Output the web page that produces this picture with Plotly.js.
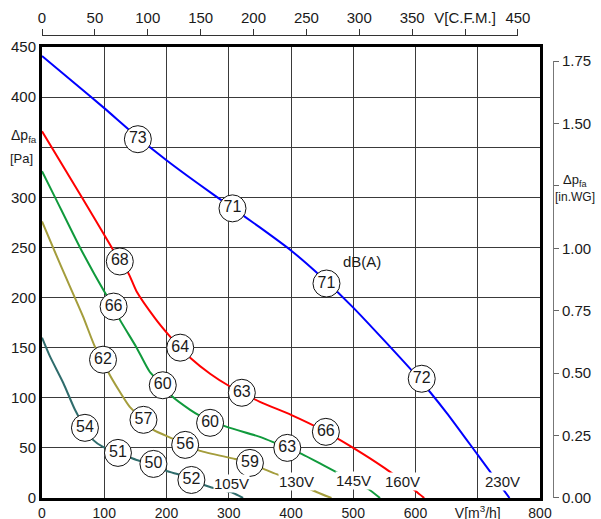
<!DOCTYPE html>
<html>
<head>
<meta charset="utf-8">
<script src="https://cdn.plot.ly/plotly-3.0.1.min.js"></script>
<style>html,body{margin:0;padding:0;background:#fff;}#chart{width:601px;height:519px;}</style>
</head>
<body>
<div id="chart"></div>
<script>
// ---- data (V in m3/h, dp in Pa) ----
const blueV  = [0, 50, 100, 150, 200, 250, 300, 350, 400, 450, 500, 550, 600, 650, 700, 751];
const blueP  = [441, 415, 389, 362, 337, 314, 292, 270, 247, 220, 190, 157, 123, 85, 43, 0];
const redV   = [0, 64, 112, 125, 139, 152, 182, 203, 222, 238, 270, 300, 350, 400, 450, 500, 550, 600, 614];
const redP   = [366, 300, 250, 236, 224, 206, 179, 163, 150, 140, 124, 112, 96, 83, 68, 50, 30, 7, 0];
const greenV = [0, 21, 61, 101, 115, 125, 152, 173, 195, 208, 238, 254, 297, 350, 394, 417, 457, 500, 524, 543];
const greenP = [326, 300, 250, 205, 191, 178, 150, 126, 112, 102, 88, 82, 71, 61, 50, 44, 31, 17, 9, 0];
const oliveV = [0, 30, 66, 85, 98, 107, 125, 141, 163, 179, 211, 230, 254, 310, 334, 356, 380, 441, 465];
const oliveP = [276, 232, 181, 151, 138, 125, 106, 91, 78, 68, 59, 53, 47, 39, 35, 29, 23, 6, 0];
const tealV  = [0, 13, 34, 53, 69, 82, 98, 122, 152, 179, 200, 222, 240, 270, 307, 323];
const tealP  = [160, 141, 115, 88, 70, 58, 51, 45, 38, 34, 27, 23, 18, 11, 5, 0];

const dbV    = [154, 306, 457, 610, 125, 222, 321, 456, 115, 194, 270, 394, 98, 163, 230, 334, 69, 122, 179, 240];
const dbP    = [358, 289, 214, 119, 236, 150, 105, 66, 191, 112.5, 75, 50, 138, 78, 53, 35, 70, 45, 34, 18];
const dbText = ['73','71','71','72','68','64','63','66','66','60','60','63','62','57','56','59','54','51','50','52'];

const voltText = ['105V', '130V', '145V', '160V', '230V'];
const voltV    = [305, 409, 500, 579, 739];
const voltP    = [14, 16, 17, 16, 16];

const bottomTicks = [0, 100, 200, 300, 400, 500, 600, 700, 800];
const bottomText  = ['0', '100', '200', '300', '400', '500', '600', 'V[m<sup>3</sup>/h]', '800'];
const leftTicks   = [0, 50, 100, 150, 200, 250, 300, 350, 400, 450];
const leftText    = ['0', '50', '100', '150', '200', '250', '300', '', '400', '450'];
const topTicks    = [0, 50, 100, 150, 200, 250, 300, 350, 400, 450];
const topText     = ['0', '50', '100', '150', '200', '250', '300', '350', 'V[C.F.M.]', '450'];
const rightTicks  = [0, 0.25, 0.5, 0.75, 1.0, 1.25, 1.5, 1.75];
const rightText   = ['0.00', '0.25', '0.50', '0.75', '1.00', '', '1.50', '1.75'];

// ---- geometry ----
const W = 601, H = 519;
const M = {l: 42, r: 48, t: 35, b: 21};
const paperW = W - M.l - M.r, paperH = H - M.t - M.b;
const plotRight = 540, plotTop = 47;
const xDomTop = (plotRight - M.l) / paperW;
const yDomTop = ((H - M.b) - plotTop) / paperH;
const CFM = 1.69901, INWG = 249.089;
const pxX = p => (p - M.l) / paperW;
const pxY = p => ((H - M.b) - p) / paperH;

const FONT = 'Liberation Sans, Arial, sans-serif';
const TXT = '#1a1a1a';

function curve(x, y, color) {
  return {type: 'scatter', mode: 'lines', x: x, y: y, line: {color: color, width: 2, shape: 'spline', smoothing: 0.6},
          hoverinfo: 'skip', showlegend: false};
}

const traces = [
  curve(tealV, tealP, '#2f6c6c'),
  curve(oliveV, oliveP, '#a49d3c'),
  curve(greenV, greenP, '#109a3c'),
  curve(redV, redP, '#ff0000'),
  curve(blueV, blueP, '#0000ff'),
  {type: 'scatter', mode: 'markers+text', x: dbV, y: dbP, text: dbText, textposition: 'middle center',
   textfont: {family: FONT, size: 16, color: TXT},
   marker: {symbol: 'circle', size: 27, color: '#ffffff', line: {color: '#111', width: 1}},
   hoverinfo: 'skip', showlegend: false, cliponaxis: false},
  {type: 'scatter', mode: 'markers', x: [0], y: [0], xaxis: 'x2', yaxis: 'y2',
   marker: {opacity: 0}, hoverinfo: 'skip', showlegend: false}
];

const annotations = [];
voltText.forEach((t, i) => annotations.push({
  x: voltV[i], y: voltP[i], xref: 'x', yref: 'y', text: t, showarrow: false,
  xanchor: 'center', yanchor: 'middle',
  font: {family: FONT, size: 15, color: TXT}, bgcolor: '#ffffff', borderpad: 0
}));
function paperNote(x, y, text, size) {
  annotations.push({x: pxX(x), y: pxY(y), xref: 'paper', yref: 'paper', text: text, showarrow: false,
    xanchor: 'center', yanchor: 'middle', font: {family: FONT, size: size, color: TXT}});
}
annotations.push({x: 514, y: 236, xref: 'x', yref: 'y', text: 'dB(A)', showarrow: false,
  xanchor: 'center', yanchor: 'middle', font: {family: FONT, size: 15, color: TXT}});
paperNote(24, 136, 'Δp<sub>fa</sub>', 14);
paperNote(21, 158, '[Pa]', 13);
paperNote(575, 181, 'Δp<sub>fa</sub>', 13);
paperNote(575, 197, '[in.WG]', 12);

const layout = {
  width: W, height: H,
  margin: M,
  paper_bgcolor: '#ffffff', plot_bgcolor: 'rgba(0,0,0,0)',
  showlegend: false,
  font: {family: FONT, size: 15, color: TXT},
  xaxis: {range: [0, 800], domain: [0, xDomTop], tickmode: 'array', tickvals: bottomTicks, ticktext: bottomText,
          ticks: '', showgrid: true, gridcolor: '#3a3a3a', gridwidth: 1, zeroline: false,
          showline: true, linecolor: '#000', linewidth: 3, mirror: true, fixedrange: true,
          tickfont: {family: FONT, size: 14, color: TXT}},
  yaxis: {range: [0, 450], domain: [0, yDomTop], tickmode: 'array', tickvals: leftTicks, ticktext: leftText,
          ticks: '', showgrid: true, gridcolor: '#3a3a3a', gridwidth: 1, zeroline: false,
          showline: true, linecolor: '#000', linewidth: 3, mirror: true, fixedrange: true,
          tickfont: {family: FONT, size: 15, color: TXT}},
  xaxis2: {range: [0, 450], domain: [0, xDomTop * (450 * CFM) / 800], anchor: 'free', position: 1, side: 'top',
           tickmode: 'array', tickvals: topTicks, ticktext: topText, ticks: 'outside', ticklen: 6, tickcolor: '#333',
           showline: true, linecolor: '#333', linewidth: 1, showgrid: false, zeroline: false, fixedrange: true,
           tickfont: {family: FONT, size: 15, color: TXT}},
  yaxis2: {range: [0, 1.75], domain: [0, yDomTop * (1.75 * INWG) / 450], anchor: 'free', position: 1, side: 'right',
           tickmode: 'array', tickvals: rightTicks, ticktext: rightText, ticks: 'outside', ticklen: 5, tickcolor: '#666',
           showline: true, linecolor: '#777', linewidth: 1, showgrid: false, zeroline: false, fixedrange: true,
           tickfont: {family: FONT, size: 15, color: TXT}},
  annotations: annotations
};

Plotly.newPlot('chart', traces, layout, {staticPlot: true, displayModeBar: false});
</script>
</body>
</html>
